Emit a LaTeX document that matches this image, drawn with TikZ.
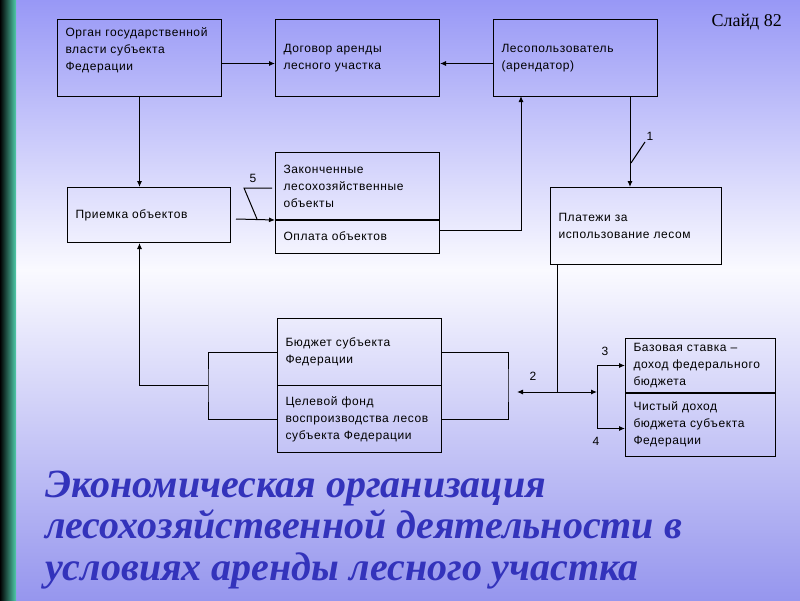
\documentclass[tikz,border=0pt]{standalone}
\usepackage{fontspec}
\setmainfont{Liberation Serif}
\newfontfamily\boxfont[LetterSpace=5]{Liberation Sans}
\usetikzlibrary{arrows.meta}
\definecolor{bgtop}{RGB}{152,152,246}
\definecolor{bgmid}{RGB}{250,250,255}
\definecolor{bgbot}{RGB}{150,150,238}
\definecolor{stripc}{RGB}{80,205,172}
\definecolor{titleblue}{RGB}{51,51,187}

\begin{document}
\begin{tikzpicture}[
  x=1pt, y=-1pt,
  font=\boxfont\fontsize{12}{17}\selectfont,
  blk/.style={draw, line width=1pt, anchor=north west, align=left, inner xsep=8pt, inner ysep=0pt},
  flow/.style={-{Latex[length=6pt,width=5pt]}, line width=1pt},
  wire/.style={line width=1pt},
  num/.style={inner sep=1pt}
]
\useasboundingbox (0,0) rectangle (800,600);
\shade[top color=bgtop, bottom color=bgmid] (0,0) rectangle (800,270);
\shade[top color=bgmid, bottom color=bgbot] (0,270) rectangle (800,600);
\shade[left color=black, right color=stripc] (0,0) rectangle (16,600);

\node[blk, minimum width=164pt, text width=148pt, minimum height=77pt] (organ) at (57,19) {Орган государственной\\власти субъекта\\Федерации\\\mbox{}};
\node[blk, minimum width=164pt, text width=148pt, minimum height=77pt] (dogovor) at (275,19) {Договор аренды\\лесного участка};
\node[blk, minimum width=164pt, text width=148pt, minimum height=77pt] (lesop) at (493,19) {Лесопользователь\\(арендатор)};
\node[blk, minimum width=163pt, text width=147pt, minimum height=55pt] (priemka) at (67,187) {Приемка объектов};
\node[blk, minimum width=164pt, text width=148pt, minimum height=67pt] (zakon) at (275,152) {Законченные\\лесохозяйственные\\объекты};
\node[blk, minimum width=164pt, text width=148pt, minimum height=34pt] (oplata) at (275,219) {Оплата объектов};
\node[blk, minimum width=171pt, text width=155pt, minimum height=77pt] (platezhi) at (550,187) {Платежи за\\использование лесом};
\node[blk, minimum width=164pt, text width=148pt, minimum height=67pt] (budget) at (277,318) {Бюджет субъекта\\Федерации};
\node[blk, minimum width=164pt, text width=148pt, minimum height=67pt] (fond) at (277,385) {Целевой фонд\\воспроизводства лесов\\субъекта Федерации};
\node[blk, minimum width=150pt, text width=134pt, minimum height=54pt] (bazov) at (625,338) {Базовая ставка –\\доход федерального\\бюджета};
\node[blk, minimum width=150pt, text width=134pt, minimum height=64pt] (chisty) at (625,392) {Чистый доход\\бюджета субъекта\\Федерации};
\draw[line width=2pt] (zakon.south west) -- (zakon.south east);
\draw[line width=2pt] (bazov.south west) -- (bazov.south east);

\coordinate (t1) at (630,96);
\coordinate (t2) at (521,96);
\coordinate (t3) at (557,264);
\coordinate (p5) at (236,219);
\coordinate (lb) at (208,385);
\coordinate (rb) at (508,385);
\coordinate (a2l) at (517,392);
\coordinate (a2r) at (597,392);

\draw[flow] ([yshift=-5.5pt]organ.east) -- ([yshift=-5.5pt]dogovor.west);
\draw[flow] ([yshift=-5.5pt]lesop.west) -- ([yshift=-5.5pt]dogovor.east);
\draw[flow] (organ.south) -- (organ.south |- priemka.north);
\draw[flow] (t1) -- (t1 |- platezhi.north);
\draw[flow] (p5) -- (zakon.south west);
\draw[flow] ([yshift=6pt]oplata.east) -| (t2);
\draw[wire] (budget.west) -| (lb) |- (fond.west);
\draw[flow] (lb) -| (organ.south |- priemka.south);
\draw[wire] (budget.east) -| (rb) |- (fond.east);
\draw[wire] (t3) -- (t3 |- a2r);
\draw[{Latex[length=6pt,width=5pt]}-{Latex[length=6pt,width=5pt]}, line width=1pt] (a2l) -- (a2r);
\draw[flow] (a2r) |- (bazov.west);
\draw[flow] (a2r) |- ([yshift=-4pt]chisty.west);

\draw[wire] (631,163) -- (645,142) node[num, above right] (n1) {1};
\draw[wire] (257,219) -- (244,188) -- (272,188);
\node[num] (n5) at (253,178) {5};
\node[num] (n2) at (533,376) {2};
\node[num] (n3) at (605,351) {3};
\node[num] (n4) at (596,441) {4};

\node[anchor=base east, inner sep=0pt, font=\rmfamily\fontsize{18}{20}\selectfont] (slide) at (782,26) {Слайд 82};
\node[anchor=base west, inner sep=0pt, align=left, text=titleblue, font=\rmfamily\bfseries\itshape\fontsize{40}{41.5}\selectfont] (title) at (45,580) {Экономическая организация\\лесохозяйственной деятельности в\\условиях аренды лесного участка};
\end{tikzpicture}
\end{document}
